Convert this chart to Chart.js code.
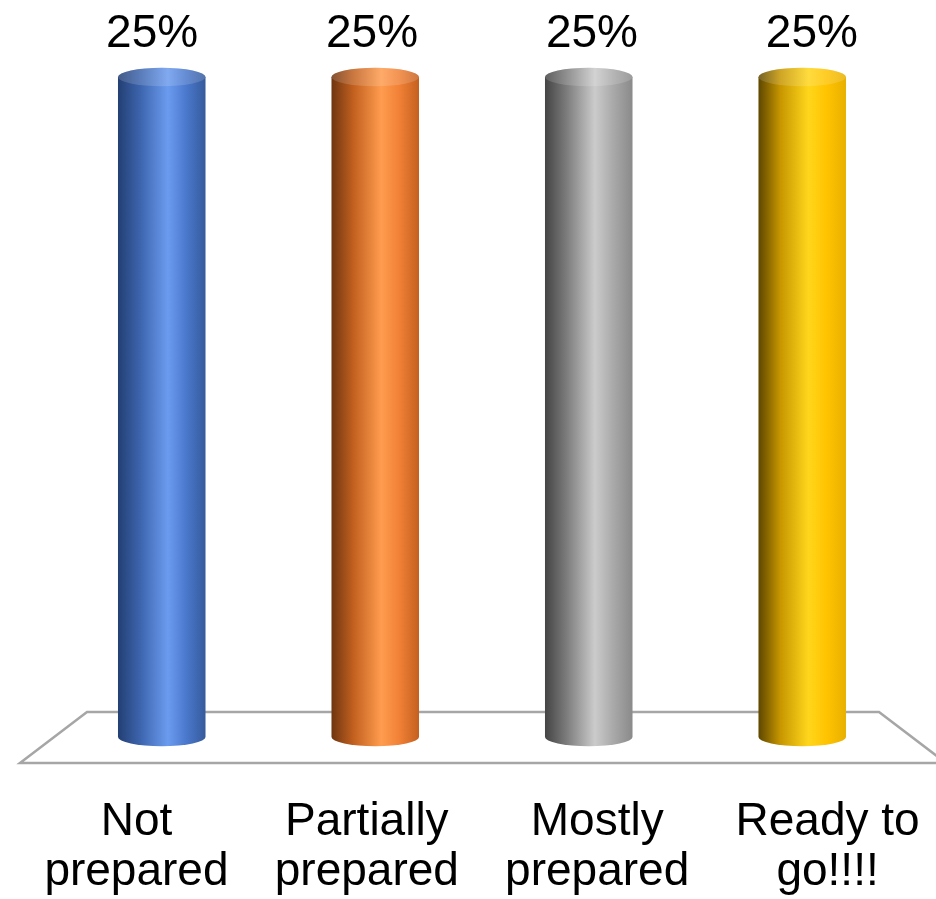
<!DOCTYPE html>
<html>
<head>
<meta charset="utf-8">
<script src="https://cdn.jsdelivr.net/npm/chart.js@4/dist/chart.umd.min.js"></script>
<style>
  html, body { margin: 0; padding: 0; background: #fff; }
  #wrap { position: relative; width: 936px; height: 899px; }
</style>
</head>
<body>
<div id="wrap"><canvas id="c"></canvas></div>
<script>
// Survey answers and their shares (percent)
const categories = [['Not', 'prepared'], ['Partially', 'prepared'], ['Mostly', 'prepared'], ['Ready to', 'go!!!!']];
const shares = [25, 25, 25, 25];

// shading stops per column: [left edge, shoulder, highlight, after highlight, right edge]
const barShades = [
  ['#233f73', '#3c64ad', '#6b9bef', '#4a78cc', '#365b9c'],
  ['#6e3510', '#c2601f', '#ff9c4f', '#f08035', '#c4601f'],
  ['#444444', '#7d7d7d', '#cbcbcb', '#a9a9a9', '#8a8a8a'],
  ['#5e4700', '#c79600', '#ffd61c', '#ffc300', '#e8b000']
];

const FONT = '"Liberation Sans", Arial, sans-serif';

// horizontal shading that makes a flat bar read as a cylinder
function cylinderGradient(ctx, x0, x1, stops) {
  const g = ctx.createLinearGradient(x0, 0, x1, 0);
  [0, 0.25, 0.57, 0.78, 1].forEach((p, k) => g.addColorStop(p, stops[k]));
  return g;
}

const cylinderPlugin = {
  id: 'cylinderPlugin',
  // floor under the columns
  beforeDatasetsDraw(chart) {
    const { ctx, chartArea: a } = chart;
    const base = chart.scales.y.getPixelForValue(0);
    ctx.save();
    ctx.beginPath();
    ctx.moveTo(a.left + 32, base - 25);
    ctx.lineTo(a.right - 30, base - 25);
    ctx.lineTo(a.right + 37, base + 26);
    ctx.lineTo(a.left - 35, base + 26);
    ctx.closePath();
    ctx.fillStyle = '#ffffff';
    ctx.fill();
    ctx.lineWidth = 2.5;
    ctx.strokeStyle = '#a6a6a6';
    ctx.stroke();
    ctx.restore();
  },
  // elliptical caps, value labels and category labels
  afterDatasetsDraw(chart) {
    const ctx = chart.ctx;
    const xs = chart.scales.x;
    const mid = (chart.chartArea.left + chart.chartArea.right) / 2;
    const base0 = chart.scales.y.getPixelForValue(0);
    const meta = chart.getDatasetMeta(0);
    meta.data.forEach((bar, i) => {
      const { x, y, base, width } = bar.getProps(['x', 'y', 'base', 'width'], true);
      const rx = width / 2, ry = rx * 0.21;
      const g = cylinderGradient(ctx, x - rx, x + rx, barShades[i]);
      ctx.save();
      ctx.fillStyle = g;
      ctx.beginPath();
      ctx.ellipse(x, base, rx, ry, 0, 0, Math.PI);
      ctx.fill();
      ctx.beginPath();
      ctx.ellipse(x, y, rx, ry, 0, 0, Math.PI * 2);
      ctx.fill();
      ctx.fillStyle = 'rgba(255,255,255,0.15)';
      ctx.fill();

      ctx.fillStyle = '#000';
      ctx.font = `46px ${FONT}`;
      ctx.textAlign = 'center';
      ctx.textBaseline = 'alphabetic';
      // value label, spread slightly by the perspective of the top plane
      const vx = mid + (x - mid) * 1.03;
      ctx.fillText(chart.data.datasets[0].data[i] + '%', vx, y - 30);

      // category label along the front edge of the floor
      const lx = mid + (xs.getPixelForValue(i) - mid) * 1.079;
      const lines = chart.data.labels[i];
      lines.forEach((t, k) => ctx.fillText(t, lx, base0 + 98 + k * 50));
      ctx.restore();
    });
  }
};

new Chart(document.getElementById('c'), {
  type: 'bar',
  data: {
    labels: categories,
    datasets: [{
      data: shares,
      borderWidth: 0,
      categoryPercentage: 1,
      barPercentage: 0.41,
      backgroundColor(context) {
        const chart = context.chart;
        const xs = chart.scales && chart.scales.x;
        if (!chart.chartArea || !xs) return barShades[context.dataIndex][3];
        const px = xs.getPixelForValue(context.dataIndex);
        const half = (xs.width / categories.length) * 0.41 / 2;
        return cylinderGradient(chart.ctx, px - half, px + half, barShades[context.dataIndex]);
      }
    }]
  },
  options: {
    responsive: true,
    maintainAspectRatio: false,
    animation: false,
    layout: { padding: { top: 77, left: 55, right: 27, bottom: 162 } },
    plugins: { legend: { display: false }, tooltip: { enabled: false } },
    scales: {
      x: { display: false },
      y: { display: false, min: 0, max: 25 }
    }
  },
  plugins: [cylinderPlugin]
});
</script>
</body>
</html>
